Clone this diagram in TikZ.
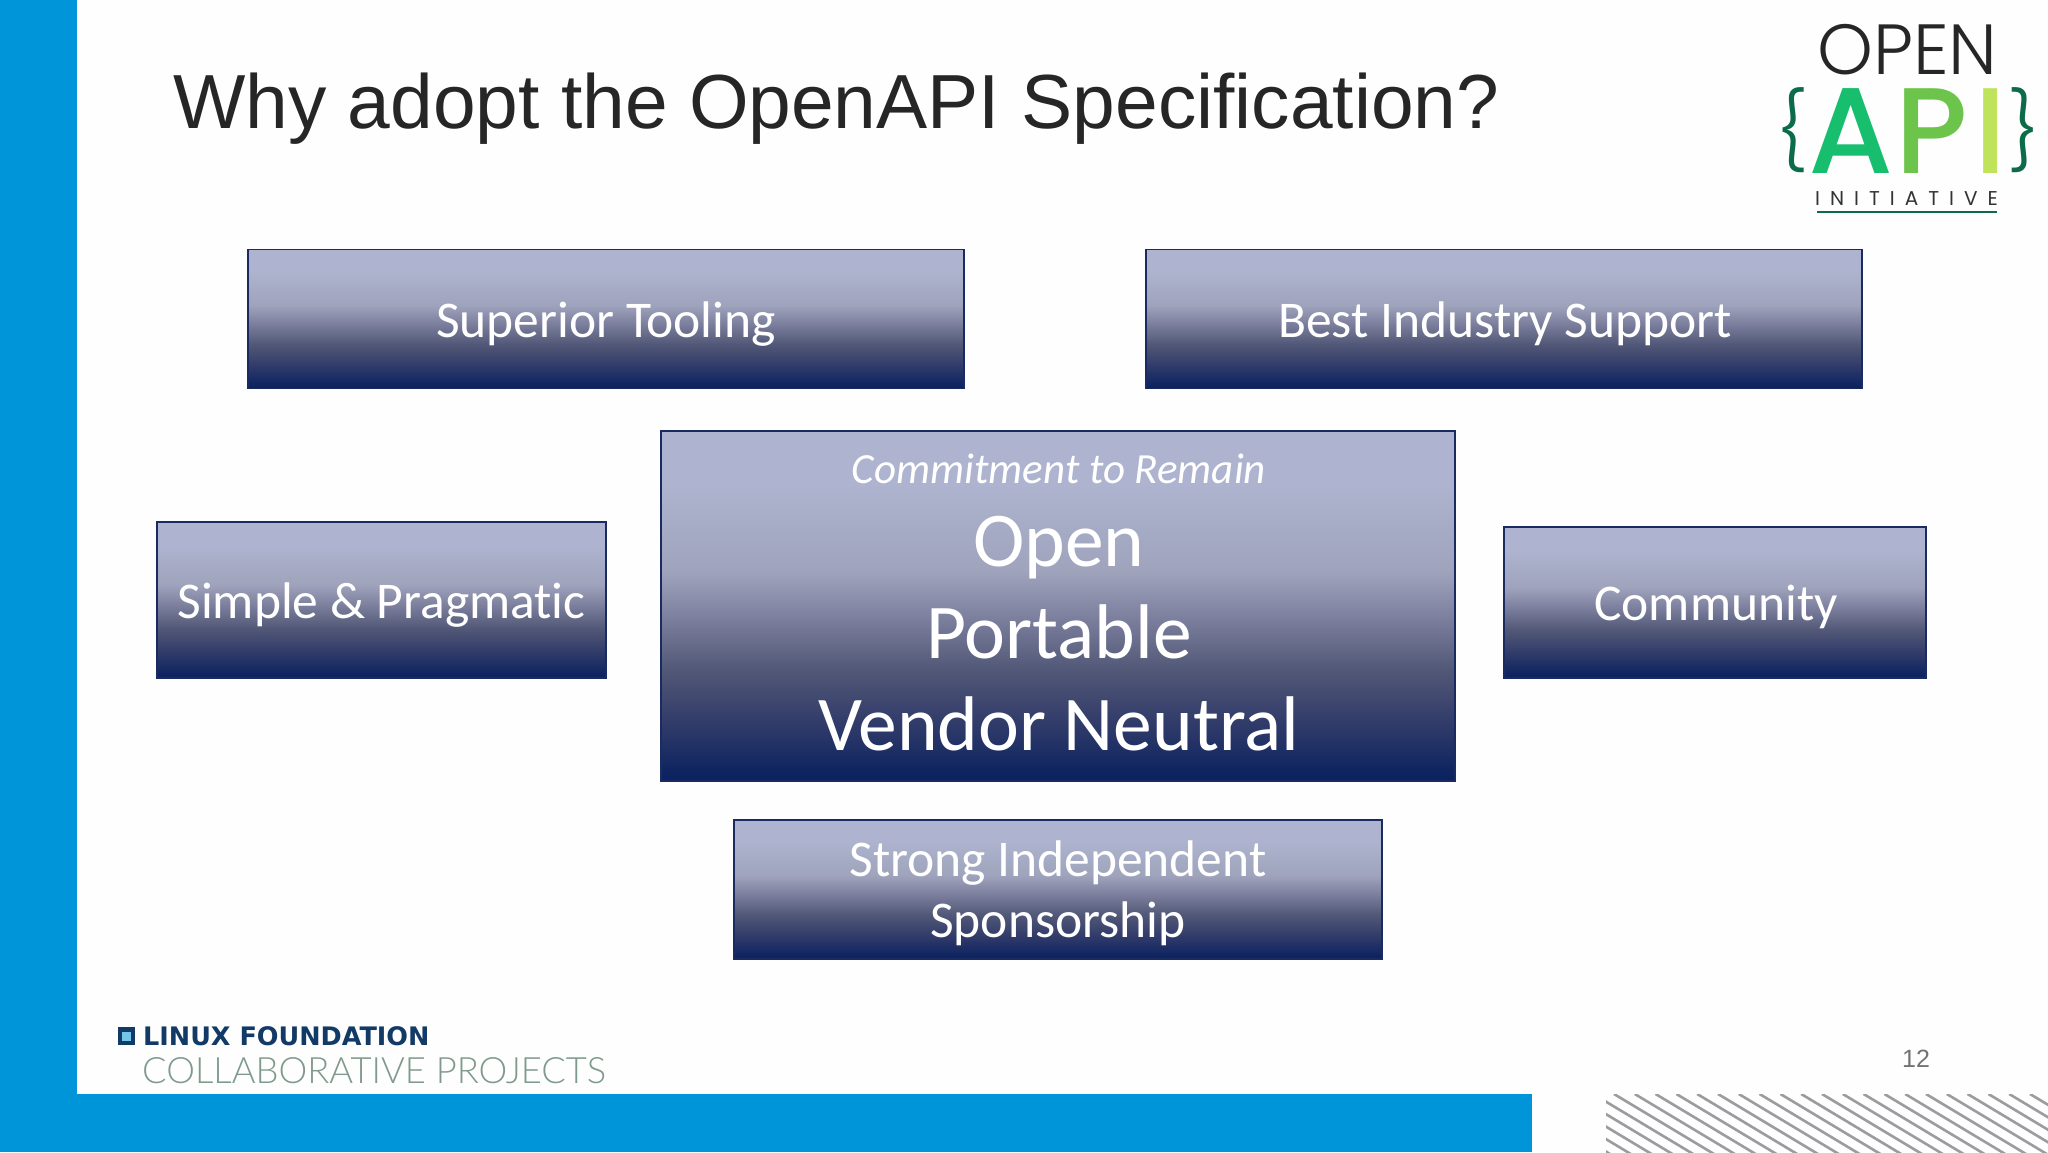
\documentclass[tikz,border=0pt]{standalone}
\usepackage{fontspec}
\setmainfont[Ligatures=NoCommon]{Carlito}
\newfontfamily\titlefont{Liberation Sans}
\newfontfamily\logofont[UprightFont=* Light]{Poppins}
\newfontfamily\apifont[UprightFont=* Medium]{Poppins}
\newfontfamily\lfbold{DejaVu Sans}
\newfontfamily\lflight[UprightFont=* Light]{Lato}
\newfontfamily\spacedfont[LetterSpace=50]{Poppins}
\usetikzlibrary{shadings}
\definecolor{bandblue}{HTML}{0095D8}
\definecolor{boxedge}{HTML}{1A2B62}
\definecolor{titleink}{HTML}{262626}
\definecolor{lfnavy}{HTML}{123A66}
\definecolor{lfgreen}{HTML}{7F9A8C}
\definecolor{apia}{HTML}{17BE6E}
\definecolor{apip}{HTML}{6CC44A}
\definecolor{apii}{HTML}{BFE35A}
\definecolor{bracegreen}{HTML}{0C6B48}
\definecolor{hatchgrey}{HTML}{9C9CA0}
\definecolor{pagebg}{HTML}{FEFEFE}
\definecolor{gbot}{HTML}{0A2260}
\definecolor{ga}{HTML}{0F2561}
\definecolor{gb}{HTML}{323C6A}
\definecolor{gc}{HTML}{525877}
\definecolor{gd}{HTML}{7A7E9C}
\definecolor{ge}{HTML}{9FA3BC}
\definecolor{gtop}{HTML}{AEB4CF}
\pgfdeclareverticalshading{boxgrad}{100bp}{
  color(0bp)=(gbot); color(25bp)=(gbot); color(26.5bp)=(ga);
  color(33.5bp)=(gb); color(41bp)=(gc); color(48bp)=(gd); color(55bp)=(ge);
  color(67.5bp)=(gtop); color(100bp)=(gtop)}
\tikzset{
  gradbox/.style={rectangle,draw=boxedge,line width=1.6pt,shading=boxgrad,inner sep=0pt,outer sep=0pt},
  boxtext/.style={anchor=base,text=white,inner sep=0pt,font=\fontsize{#1}{#1}\selectfont},
  lbl/.style={anchor=base west,inner sep=0pt}
}
\begin{document}
\begin{tikzpicture}[x=1pt,y=-1pt]
\useasboundingbox (0,0) rectangle (2048,1152);
\fill[pagebg] (0,0) rectangle (2048,1152);
% bands
\fill[bandblue] (0,0) rectangle (77,1152);
\fill[bandblue] (0,1094) rectangle (1532,1152);
% hatching
\begin{scope}
\clip (1606,1094) rectangle (2048,1152);
\foreach \i in {0,...,26}{
  \draw[hatchgrey,line width=2.6pt] ({1510+\i*20.8},1094) -- ({1610+\i*20.8},1154);
}
\end{scope}
% title
\node[lbl,text=titleink,font=\titlefont\fontsize{76.7}{77}\selectfont] (title) at (173,128) {Why adopt the OpenAPI Specification?};
% boxes
\node[gradbox,minimum width=716pt,minimum height=139pt] (tool) at (606,319) {};
\node[gradbox,minimum width=716pt,minimum height=139pt] (best) at (1504,319) {};
\node[gradbox,minimum width=794pt,minimum height=350pt] (core) at (1058,606) {};
\node[gradbox,minimum width=449pt,minimum height=156pt] (simple) at (381.5,600) {};
\node[gradbox,minimum width=422pt,minimum height=151pt] (comm) at (1715,602.5) {};
\node[gradbox,minimum width=648pt,minimum height=139pt] (spons) at (1058,889.5) {};
% box labels
\node[boxtext=51.5] (toolt) at (606,337) {Superior Tooling};
\node[boxtext=51.5] (bestt) at (1505,337) {Best Industry Support};
\node[boxtext=43,font=\fontsize{43}{43}\selectfont\itshape] (c1) at (1059,483) {Commitment to Remain};
\node[boxtext=77.5] (c2) at (1059,566) {Open};
\node[boxtext=77.5] (c3) at (1059,658) {Portable};
\node[boxtext=77.5] (c4) at (1059,750) {Vendor Neutral};
\node[boxtext=51.5] (simplet) at (381.5,618) {Simple \& Pragmatic};
\node[boxtext=51.5] (commt) at (1716,620) {Community};
\node[boxtext=51.5] (s1) at (1058,876) {Strong Independent};
\node[boxtext=51.5] (s2) at (1058,937) {Sponsorship};
% logo
\node[lbl,text=black!85,font=\logofont\fontsize{71}{71}\selectfont] (open) at (1817,74) {OPEN};
\node[lbl,text=bracegreen,font=\logofont\fontsize{76}{76}\selectfont] (lbrace) at (1776,158) {\{};
\node[lbl,text=apia,font=\apifont\fontsize{122}{122}\selectfont] (apiA) at (1808,173) {A};
\node[lbl,text=apip,font=\apifont\fontsize{122}{122}\selectfont] (apiP) at (1895,173) {P};
\node[lbl,text=apii,font=\apifont\fontsize{122}{122}\selectfont] (apiI) at (1974,173) {I};
\node[lbl,text=bracegreen,font=\logofont\fontsize{76}{76}\selectfont] (rbrace) at (2008,158) {\}};
\node[lbl,text=black!80,font=\spacedfont\fontsize{20}{20}\selectfont] (init) at (1815,205) {INITIATIVE};
\draw[bracegreen,line width=2pt] (1817,212) -- (1997,212);
% footer
\fill[lfnavy] (118,1027) rectangle (135,1045);
\fill[bandblue!55!white] (122,1032) rectangle (131,1041);
\node[lbl,text=lfnavy,font=\lfbold\bfseries\fontsize{25.5}{25.5}\selectfont] (lf) at (143,1045) {LINUX FOUNDATION};
\node[lbl,text=lfgreen,font=\lflight\fontsize{36.3}{36.3}\selectfont] (collab) at (142,1083) {COLLABORATIVE PROJECTS};
\node[anchor=base,text=black!55,font=\titlefont\fontsize{25}{25}\selectfont] (pageno) at (1916,1067) {12};
\end{tikzpicture}
\end{document}
